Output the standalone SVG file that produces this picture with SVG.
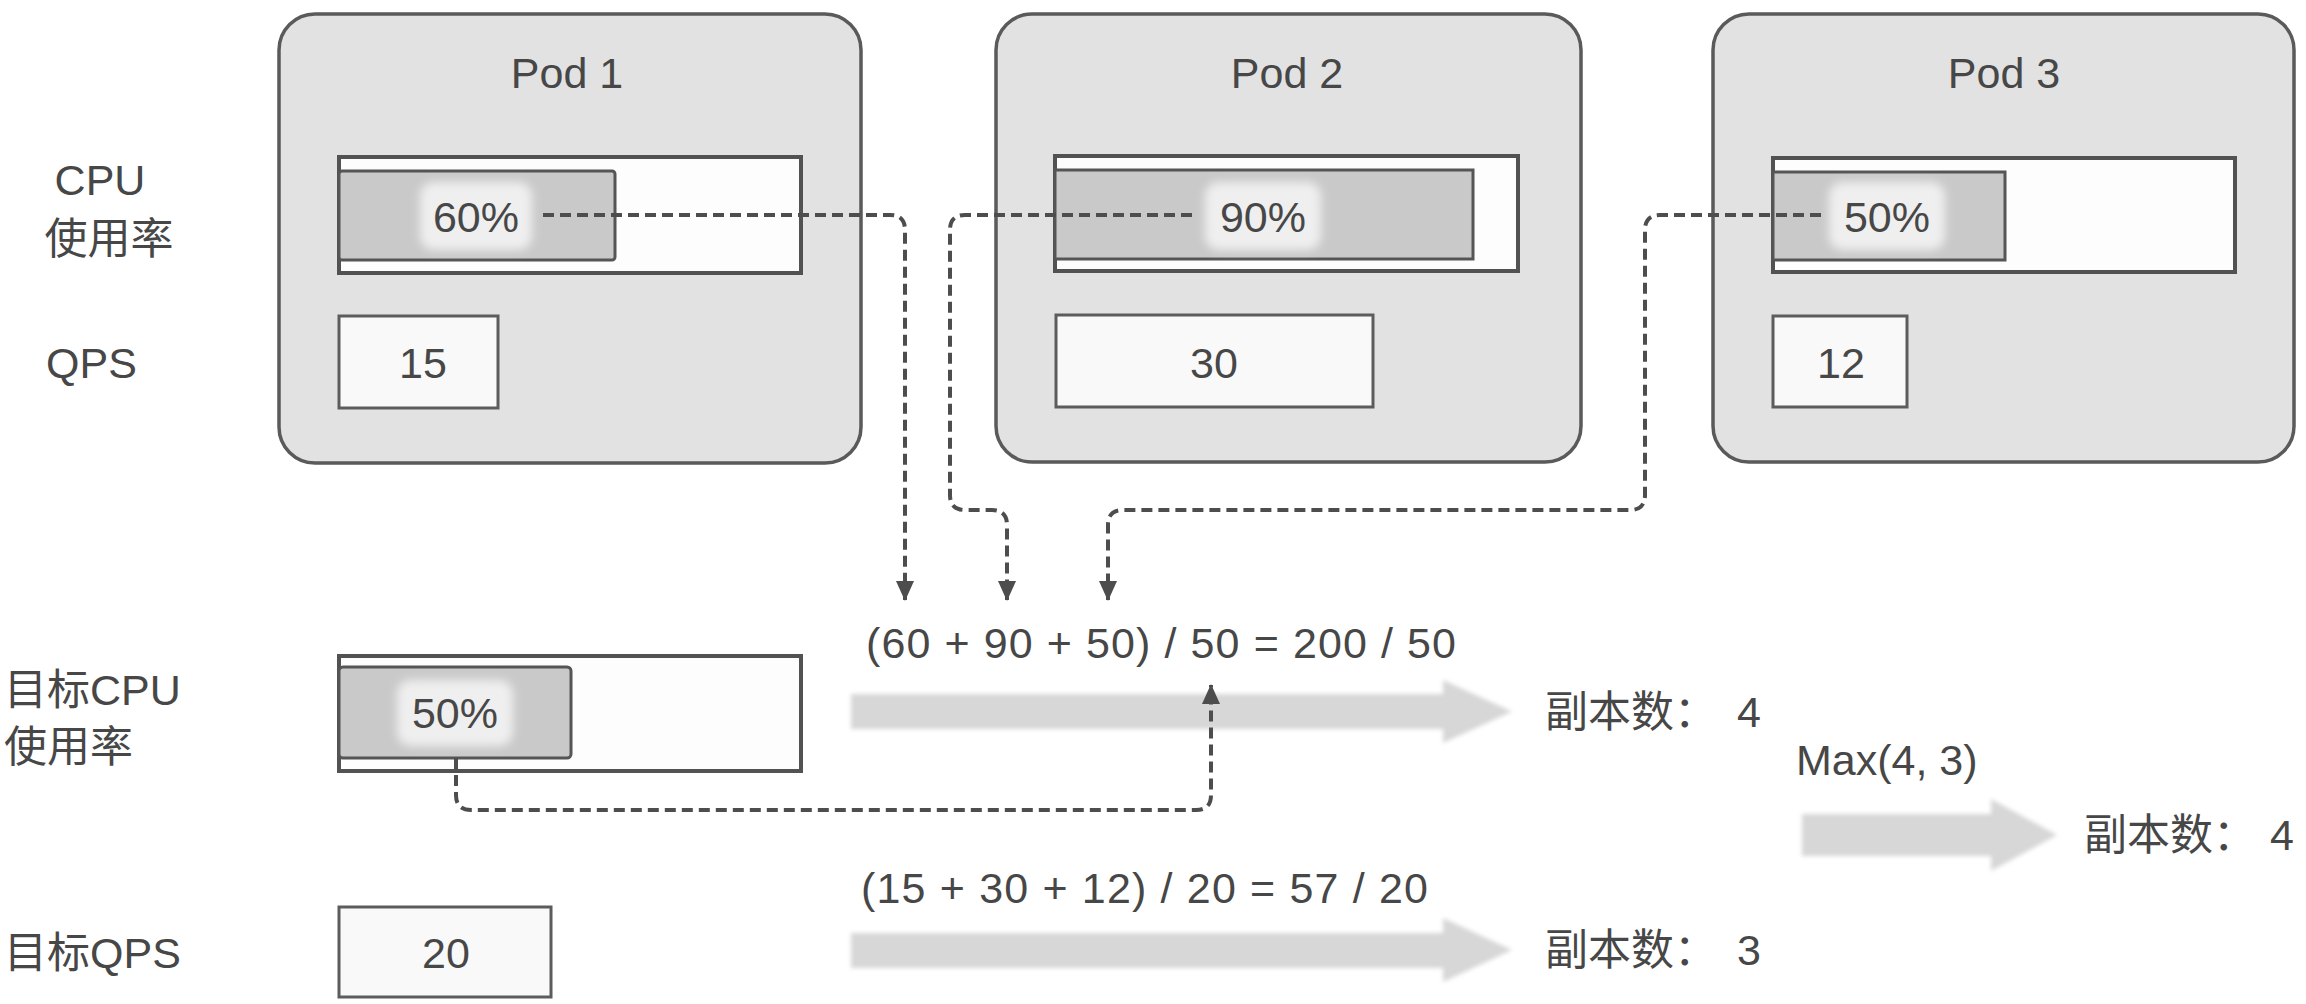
<svg xmlns="http://www.w3.org/2000/svg" width="2306" height="1004" viewBox="0 0 2306 1004">
<style>
.t{font-family:"Liberation Sans","Noto Sans CJK SC",sans-serif;font-size:43px;fill:#474747}
.m{text-anchor:middle}
.pod{fill:#e2e2e2;stroke:#5a5a5a;stroke-width:3.5}
.bo{fill:#fdfdfd;stroke:#525252;stroke-width:4}
.bi{fill:#c9c9c9;stroke:#555;stroke-width:3}
.qps{fill:#f9f9f9;stroke:#5c5c5c;stroke-width:3}
.halo{fill:#efefef;filter:url(#glow)}
.dash{fill:none;stroke:#4d4d4d;stroke-width:4;stroke-dasharray:11 6;marker-end:url(#ah)}
.big{fill:#d7d7d7;filter:url(#soft)}
</style>
<defs>
<filter id="glow" x="-30%" y="-30%" width="160%" height="160%"><feGaussianBlur stdDeviation="5"/></filter>
<filter id="soft" x="-5%" y="-20%" width="110%" height="140%"><feGaussianBlur stdDeviation="2"/></filter>
<marker id="ah" markerUnits="userSpaceOnUse" markerWidth="20" markerHeight="18" refX="19" refY="9" orient="auto"><path d="M0,0 L20,9 L0,18 z" fill="#4d4d4d"/></marker>
</defs>
<rect width="2306" height="1004" fill="#ffffff"/>

<g id="labels">
<text class="t m" x="100" y="195">CPU</text>
<text class="t m" x="109" y="254">使用率</text>
<text class="t" x="46" y="378">QPS</text>
<text class="t" x="4" y="705">目标CPU</text>
<text class="t" x="4" y="762">使用率</text>
<text class="t" x="4" y="968">目标QPS</text>
</g>

<g id="pod1">
<rect class="pod" x="279" y="14" width="582" height="449" rx="36"/>
<text class="t m" x="567" y="88">Pod 1</text>
<rect class="bo" x="339" y="157" width="462" height="116"/>
<rect class="bi" x="339" y="171" width="276" height="89" rx="3"/>
<rect class="halo" x="420" y="182" width="112" height="68" rx="14"/>
<text class="t m" x="476" y="232">60%</text>
<rect class="qps" x="339" y="316" width="159" height="92"/>
<text class="t m" x="423" y="378">15</text>
</g>

<g id="pod2">
<rect class="pod" x="996" y="14" width="585" height="448" rx="36"/>
<text class="t m" x="1287" y="88">Pod 2</text>
<rect class="bo" x="1055" y="156" width="463" height="115"/>
<rect class="bi" x="1055" y="170" width="418" height="89"/>
<rect class="halo" x="1205" y="182" width="116" height="68" rx="14"/>
<text class="t m" x="1263" y="232">90%</text>
<rect class="qps" x="1056" y="315" width="317" height="92"/>
<text class="t m" x="1214" y="378">30</text>
</g>

<g id="pod3">
<rect class="pod" x="1713" y="14" width="581" height="448" rx="36"/>
<text class="t m" x="2004" y="88">Pod 3</text>
<rect class="bo" x="1773" y="158" width="462" height="114"/>
<rect class="bi" x="1773" y="172" width="232" height="88"/>
<rect class="halo" x="1829" y="182" width="116" height="68" rx="14"/>
<text class="t m" x="1887" y="232">50%</text>
<rect class="qps" x="1773" y="316" width="134" height="91"/>
<text class="t m" x="1841" y="378">12</text>
</g>

<g id="target-cpu">
<rect class="bo" x="339" y="656" width="462" height="115"/>
<rect class="bi" x="339" y="667" width="232" height="91" rx="4"/>
<rect class="halo" x="397" y="680" width="116" height="66" rx="14"/>
<text class="t m" x="455" y="728">50%</text>
</g>

<g id="target-qps">
<rect class="qps" x="339" y="907" width="212" height="90"/>
<text class="t m" x="446" y="968">20</text>
</g>

<g id="calc">
<text class="t" x="866" y="658" textLength="590" lengthAdjust="spacing">(60 + 90 + 50) / 50 = 200 / 50</text>
<path class="big" d="M851,694 H1443 V680 L1512,711.5 L1443,743 V729 H851 Z"/>
<text class="t" x="1545" y="727">副本数：<tspan dx="20">4</tspan></text>
<text class="t" x="861" y="903" textLength="567" lengthAdjust="spacing">(15 + 30 + 12) / 20 = 57 / 20</text>
<path class="big" d="M851,933 H1443 V918 L1512,950 L1443,982 V968 H851 Z"/>
<text class="t" x="1545" y="965">副本数：<tspan dx="20">3</tspan></text>
<text class="t" x="1796" y="775">Max(4, 3)</text>
<path class="big" d="M1802,814 H1991 V799 L2057,835 L1991,871 V856 H1802 Z"/>
<text class="t" x="2084" y="850">副本数：<tspan dx="14">4</tspan></text>
</g>

<g id="connectors">
<path class="dash" d="M543,215 H890 Q905,215 905,230 V600"/>
<path class="dash" d="M1192,215 H965 Q950,215 950,230 V495 Q950,510 965,510 H992 Q1007,510 1007,525 V600"/>
<path class="dash" d="M1821,215 H1660 Q1645,215 1645,230 V495 Q1645,510 1630,510 H1123 Q1108,510 1108,525 V600"/>
<path class="dash" d="M456,758 V795 Q456,810 471,810 H1196 Q1211,810 1211,795 V685"/>
</g>
</svg>
